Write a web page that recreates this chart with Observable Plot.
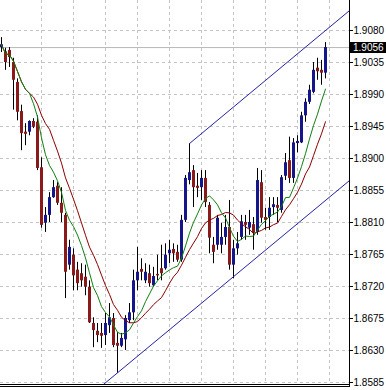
<!DOCTYPE html>
<html>
<head>
<meta charset="utf-8">
<script src="https://cdn.jsdelivr.net/npm/d3@7"></script>
<script src="https://cdn.jsdelivr.net/npm/@observablehq/plot@0.6"></script>
<style>
  html, body { margin: 0; padding: 0; background: #ffffff; }
  svg { display: block; }
</style>
</head>
<body>
<div id="chart"></div>
<script>
// ---- data (prices) ----
const openP = [1.9056,1.9050,1.9052,1.9035,1.9007,1.8966,1.8937,1.8937,1.8952,1.8951,
1.8887,1.8809,1.8820,1.8845,1.8861,1.8837,1.8820,1.8750,1.8764,1.8743,
1.8738,1.8733,1.8719,1.8668,1.8657,1.8654,1.8651,1.8665,1.8675,1.8640,
1.8636,1.8645,1.8672,1.8683,1.8728,1.8744,1.8728,1.8738,1.8721,1.8737,
1.8745,1.8745,1.8766,1.8772,1.8768,1.8757,1.8813,1.8869,1.8883,1.8861,
1.8859,1.8872,1.8834,1.8778,1.8778,1.8778,1.8789,1.8803,1.8750,1.8773,
1.8789,1.8810,1.8802,1.8807,1.8796,1.8866,1.8817,1.8817,1.8831,1.8834,
1.8827,1.8875,1.8897,1.8872,1.8921,1.8922,1.8960,1.8979,1.8993,1.9027,
1.9024,1.9020];
const highP = [1.9070,1.9055,1.9056,1.9041,1.9012,1.8975,1.8949,1.8953,1.8956,1.8960,
1.8901,1.8831,1.8852,1.8869,1.8866,1.8859,1.8823,1.8785,1.8773,1.8754,
1.8752,1.8750,1.8728,1.8676,1.8668,1.8668,1.8682,1.8696,1.8682,1.8655,
1.8654,1.8679,1.8696,1.8743,1.8775,1.8759,1.8752,1.8750,1.8747,1.8764,
1.8778,1.8780,1.8785,1.8780,1.8778,1.8820,1.8876,1.8921,1.8890,1.8879,
1.8883,1.8883,1.8838,1.8789,1.8820,1.8809,1.8820,1.8841,1.8785,1.8796,
1.8820,1.8820,1.8827,1.8817,1.8886,1.8883,1.8830,1.8845,1.8845,1.8845,
1.8876,1.8907,1.8930,1.8928,1.8932,1.8965,1.8984,1.9003,1.9035,1.9041,
1.9038,1.9063];
const lowP = [1.9049,1.9024,1.9028,1.8968,1.8953,1.8911,1.8918,1.8932,1.8942,1.8883,
1.8802,1.8796,1.8810,1.8844,1.8834,1.8810,1.8703,1.8743,1.8714,1.8714,
1.8719,1.8707,1.8668,1.8634,1.8641,1.8633,1.8637,1.8654,1.8634,1.8598,
1.8634,1.8630,1.8668,1.8672,1.8714,1.8728,1.8724,1.8719,1.8719,1.8728,
1.8728,1.8743,1.8752,1.8754,1.8754,1.8754,1.8810,1.8863,1.8831,1.8845,
1.8841,1.8831,1.8766,1.8752,1.8771,1.8766,1.8778,1.8743,1.8731,1.8764,
1.8785,1.8785,1.8792,1.8771,1.8792,1.8809,1.8799,1.8799,1.8820,1.8810,
1.8823,1.8869,1.8865,1.8865,1.8908,1.8921,1.8951,1.8976,1.8991,1.9010,
1.9003,1.9012];
const closeP = [1.9060,1.9035,1.9042,1.9010,1.8965,1.8935,1.8934,1.8952,1.8944,1.8886,
1.8806,1.8820,1.8845,1.8859,1.8837,1.8823,1.8740,1.8775,1.8735,1.8724,
1.8728,1.8719,1.8669,1.8658,1.8651,1.8650,1.8668,1.8676,1.8637,1.8636,
1.8647,1.8675,1.8683,1.8728,1.8740,1.8740,1.8740,1.8724,1.8734,1.8735,
1.8738,1.8764,1.8771,1.8766,1.8757,1.8813,1.8872,1.8880,1.8859,1.8858,
1.8872,1.8838,1.8788,1.8768,1.8816,1.8789,1.8803,1.8750,1.8773,1.8780,
1.8811,1.8806,1.8810,1.8795,1.8869,1.8816,1.8813,1.8830,1.8835,1.8830,
1.8873,1.8894,1.8872,1.8922,1.8924,1.8960,1.8979,1.8996,1.9024,1.9022,
1.9020,1.9056];

// trend channel anchor points (bar index, price)
const upperChannel = [{i: 47, p: 1.8921}, {i: 87, p: 1.9108}];
const lowerChannel = [{i: 22, p: 1.8566}, {i: 87, p: 1.8869}];

// axis ticks, grid separators, last price
const yTicks = [1.9080,1.9035,1.8990,1.8945,1.8900,1.8855,1.8810,1.8765,1.8720,1.8675,1.8630,1.8585];
const xGrid = [10,18,26,34,42,50,58,66,74,82];
const lastPrice = 1.9056;
const fastPeriod = 8;
const slowPeriod = 13;

// ---- build table ----
const bars = openP.map((o, i) => ({i, open: o, high: highP[i], low: lowP[i], close: closeP[i]}));

const BLUE = "#16168c";
const RED = "#8a1a1a";
const GRID = "#c4c4c4";

const chart = Plot.plot({
  width: 386,
  height: 390,
  marginLeft: 0,
  marginRight: 37,
  marginTop: 0,
  marginBottom: 6,
  style: {background: "#ffffff", fontFamily: "'Liberation Sans', Arial, sans-serif", fontSize: "10px", color: "#000"},
  x: {domain: [-0.25, 87], axis: null},
  y: {domain: [1.858219, 1.912219], axis: "right", ticks: yTicks, tickFormat: d => d.toFixed(4), tickSize: 3, tickPadding: 1, label: null},
  color: {type: "identity"},
  marks: [
    Plot.ruleY(yTicks, {stroke: GRID, strokeDasharray: "3,3"}),
    Plot.ruleX(xGrid, {stroke: GRID, strokeDasharray: "3,3"}),
    Plot.ruleY([lastPrice], {stroke: "#b8b8b8"}),
    Plot.ruleX(bars, {x: "i", y1: "low", y2: "high", stroke: "#000"}),
    Plot.ruleX(bars, {x: "i", y1: "open", y2: "close", stroke: d => d.close >= d.open ? BLUE : RED, strokeWidth: 3}),
    Plot.lineY(bars, Plot.windowY({k: slowPeriod, anchor: "end", reduce: "mean"}, {x: "i", y: "close", stroke: "#8c0000", strokeWidth: 1})),
    Plot.lineY(bars, Plot.windowY({k: fastPeriod, anchor: "end", reduce: "mean"}, {x: "i", y: "close", stroke: "#108010", strokeWidth: 1})),
    Plot.line(upperChannel, {x: "i", y: "p", stroke: "#2323a8", strokeWidth: 1, clip: true}),
    Plot.line(lowerChannel, {x: "i", y: "p", stroke: "#2323a8", strokeWidth: 1, clip: true})
  ]
});

// borders and last-price box, positioned through Plot's y scale
const W = 386, H = 390, xr = W - 37, yb = H - 6;
const svg = d3.select(chart);
svg.append("line").attr("x1", xr + 0.5).attr("x2", xr + 0.5).attr("y1", 0).attr("y2", yb + 3).attr("stroke", "#000");
svg.append("line").attr("x1", 0).attr("x2", xr + 1).attr("y1", yb + 0.5).attr("y2", yb + 0.5).attr("stroke", "#000");
svg.append("line").attr("x1", 0).attr("x2", xr + 1).attr("y1", yb + 2.5).attr("y2", yb + 2.5).attr("stroke", "#000");
const yLast = chart.scale("y").apply(lastPrice);
svg.append("rect").attr("x", xr + 1).attr("y", Math.round(yLast) - 5).attr("width", W - xr - 1).attr("height", 11).attr("fill", "#000");
svg.append("text").attr("x", xr + 4).attr("y", yLast).attr("dy", "0.35em").attr("fill", "#fff")
  .attr("text-anchor", "start")
  .attr("font-family", "'Liberation Sans', Arial, sans-serif").attr("font-size", 10).text(lastPrice.toFixed(4));

document.getElementById("chart").appendChild(chart);
</script>
</body>
</html>
